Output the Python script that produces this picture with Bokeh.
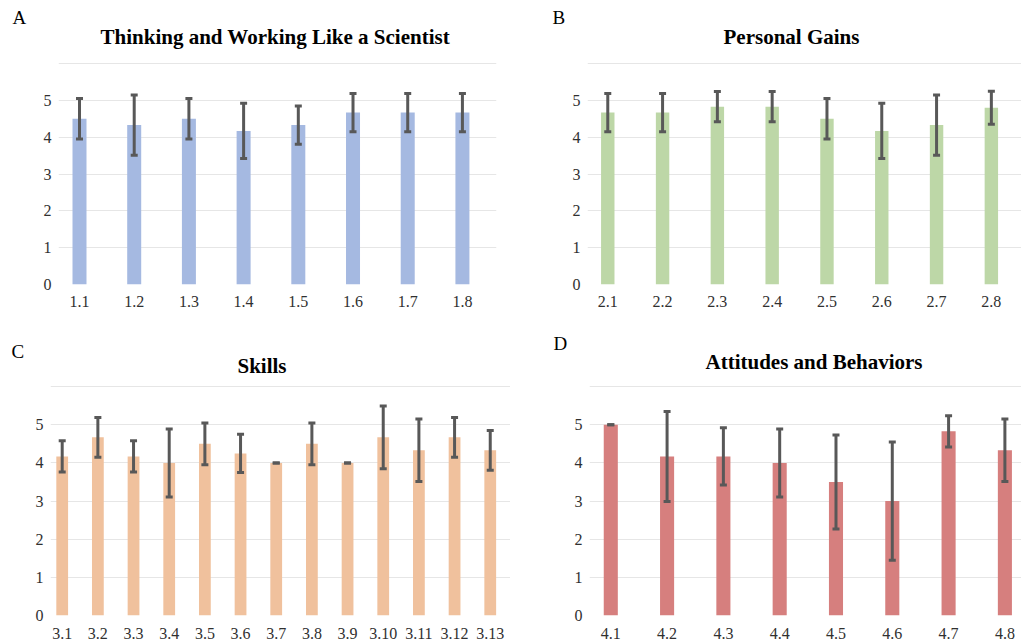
from bokeh.plotting import figure
from bokeh.layouts import column, row
from bokeh.models import (Range1d, FixedTicker, Whisker, TeeHead, ColumnDataSource,
                          Title)
from bokeh.embed import file_html
from bokeh.resources import INLINE

# ---------------- data ----------------
a_labels = ["1.1", "1.2", "1.3", "1.4", "1.5", "1.6", "1.7", "1.8"]
a_means = [4.5, 4.33, 4.5, 4.17, 4.33, 4.67, 4.67, 4.67]
a_errs = [0.55, 0.82, 0.55, 0.75, 0.52, 0.52, 0.52, 0.52]

b_labels = ["2.1", "2.2", "2.3", "2.4", "2.5", "2.6", "2.7", "2.8"]
b_means = [4.67, 4.67, 4.83, 4.83, 4.5, 4.17, 4.33, 4.8]
b_errs = [0.52, 0.52, 0.41, 0.41, 0.55, 0.75, 0.82, 0.45]

c_labels = ["3.1", "3.2", "3.3", "3.4", "3.5", "3.6", "3.7", "3.8", "3.9",
            "3.10", "3.11", "3.12", "3.13"]
c_means = [4.17, 4.67, 4.17, 4.0, 4.5, 4.25, 4.0, 4.5, 4.0, 4.67, 4.33, 4.67, 4.33]
c_errs = [0.41, 0.52, 0.41, 0.89, 0.55, 0.5, 0.0, 0.55, 0.0, 0.82, 0.82, 0.52, 0.52]

d_labels = ["4.1", "4.2", "4.3", "4.4", "4.5", "4.6", "4.7", "4.8"]
d_means = [5.0, 4.17, 4.17, 4.0, 3.5, 3.0, 4.83, 4.33]
d_errs = [0.0, 1.18, 0.75, 0.89, 1.23, 1.55, 0.41, 0.82]

titles = ["Thinking and Working Like a Scientist", "Personal Gains", "Skills",
          "Attitudes and Behaviors"]
letters = ["A", "B", "C", "D"]
y_ticks = [0, 1, 2, 3, 4, 5, 6]

FONT = "Liberation Serif"


def panel(labels, means, errs, color, letter, title, width, height, borders,
          x_rng, bar_w, title_pos, letter_pos, x_standoff):
    left, right, top, bottom = borders
    n = len(labels)
    xs = list(range(1, n + 1))
    p = figure(width=width, height=height, output_backend="svg",
               toolbar_location=None,
               x_range=Range1d(*x_rng), y_range=Range1d(0, 6.03),
               min_border_left=left, min_border_right=right,
               min_border_top=top, min_border_bottom=bottom)
    p.outline_line_color = None
    p.background_fill_color = "white"
    p.border_fill_color = "white"

    src = ColumnDataSource(dict(
        x=xs, top=means,
        upper=[m + e for m, e in zip(means, errs)],
        lower=[m - e for m, e in zip(means, errs)]))

    p.vbar(x="x", top="top", bottom=0, width=bar_w, source=src,
           fill_color=color, line_color=None)

    w = Whisker(base="x", upper="upper", lower="lower", source=src,
                level="overlay",
                line_color="#585858", line_width=3,
                upper_head=TeeHead(size=7, line_color="#585858", line_width=3),
                lower_head=TeeHead(size=7, line_color="#585858", line_width=3))
    p.add_layout(w)

    # y axis
    p.yaxis.ticker = FixedTicker(ticks=y_ticks)
    p.yaxis.major_label_overrides = {6: ""}
    p.yaxis.axis_line_color = None
    p.yaxis.major_tick_line_color = None
    p.yaxis.minor_tick_line_color = None
    p.yaxis.major_tick_out = 0
    p.yaxis.major_tick_in = 0
    p.yaxis.major_label_standoff = 7
    p.yaxis.major_label_text_font = FONT
    p.yaxis.major_label_text_font_size = "16px"
    p.yaxis.major_label_text_color = "#303030"

    p.ygrid.ticker = FixedTicker(ticks=y_ticks)
    p.ygrid.grid_line_color = "#e6e6e6"
    p.ygrid.grid_line_width = 1
    p.xgrid.grid_line_color = None

    # x axis
    p.xaxis.ticker = FixedTicker(ticks=xs)
    p.xaxis.major_label_overrides = {i: l for i, l in zip(xs, labels)}
    p.xaxis.axis_line_color = None
    p.xaxis.major_tick_line_color = None
    p.xaxis.minor_tick_line_color = None
    p.xaxis.major_tick_out = 0
    p.xaxis.major_tick_in = 0
    p.xaxis.major_label_standoff = x_standoff
    p.xaxis.major_label_text_font = FONT
    p.xaxis.major_label_text_font_size = "16px"
    p.xaxis.major_label_text_color = "#303030"

    # panel letter in the outer title slot, chart title nearest the frame
    p.title.text = letter
    p.title.align = "left"
    p.title.offset = letter_pos[0]
    p.title.standoff = letter_pos[1]
    p.title.text_font = FONT
    p.title.text_font_size = "19px"
    p.title.text_font_style = "normal"
    p.title.text_color = "black"

    tt = Title(text=title, align="left", offset=title_pos[0],
               standoff=title_pos[1], text_font=FONT,
               text_font_size="21px", text_font_style="bold",
               text_color="black")
    p.add_layout(tt, "above")
    return p


pa = panel(a_labels, a_means, a_errs, "#a5b9e1", letters[0], titles[0],
           510, 330, (58, 14, 62, 44), (0.616, 8.623), 0.256,
           (42, 27), (-46, -37), 11)
pb = panel(b_labels, b_means, b_errs, "#bdd7a7", letters[1], titles[1],
           511, 330, (77, 0, 62, 46), (0.630, 8.550), 0.245,
           (136, 27), (-35, -37), 11)
pc = panel(c_labels, c_means, c_errs, "#f0c19d", letters[2], titles[2],
           510, 312, (50, 0, 50, 26), (0.672, 13.568), 0.33,
           (187, 15), (-39, -35), 12)
pd_ = panel(d_labels, d_means, d_errs, "#d67f7e", letters[3], titles[3],
            511, 312, (79, 0, 55, 27), (0.622, 8.295), 0.25,
            (116, 23), (-36, -34), 12)

layout = column(row(pa, pb), row(pc, pd_))

open("out.html", "w").write(file_html(layout, INLINE))
